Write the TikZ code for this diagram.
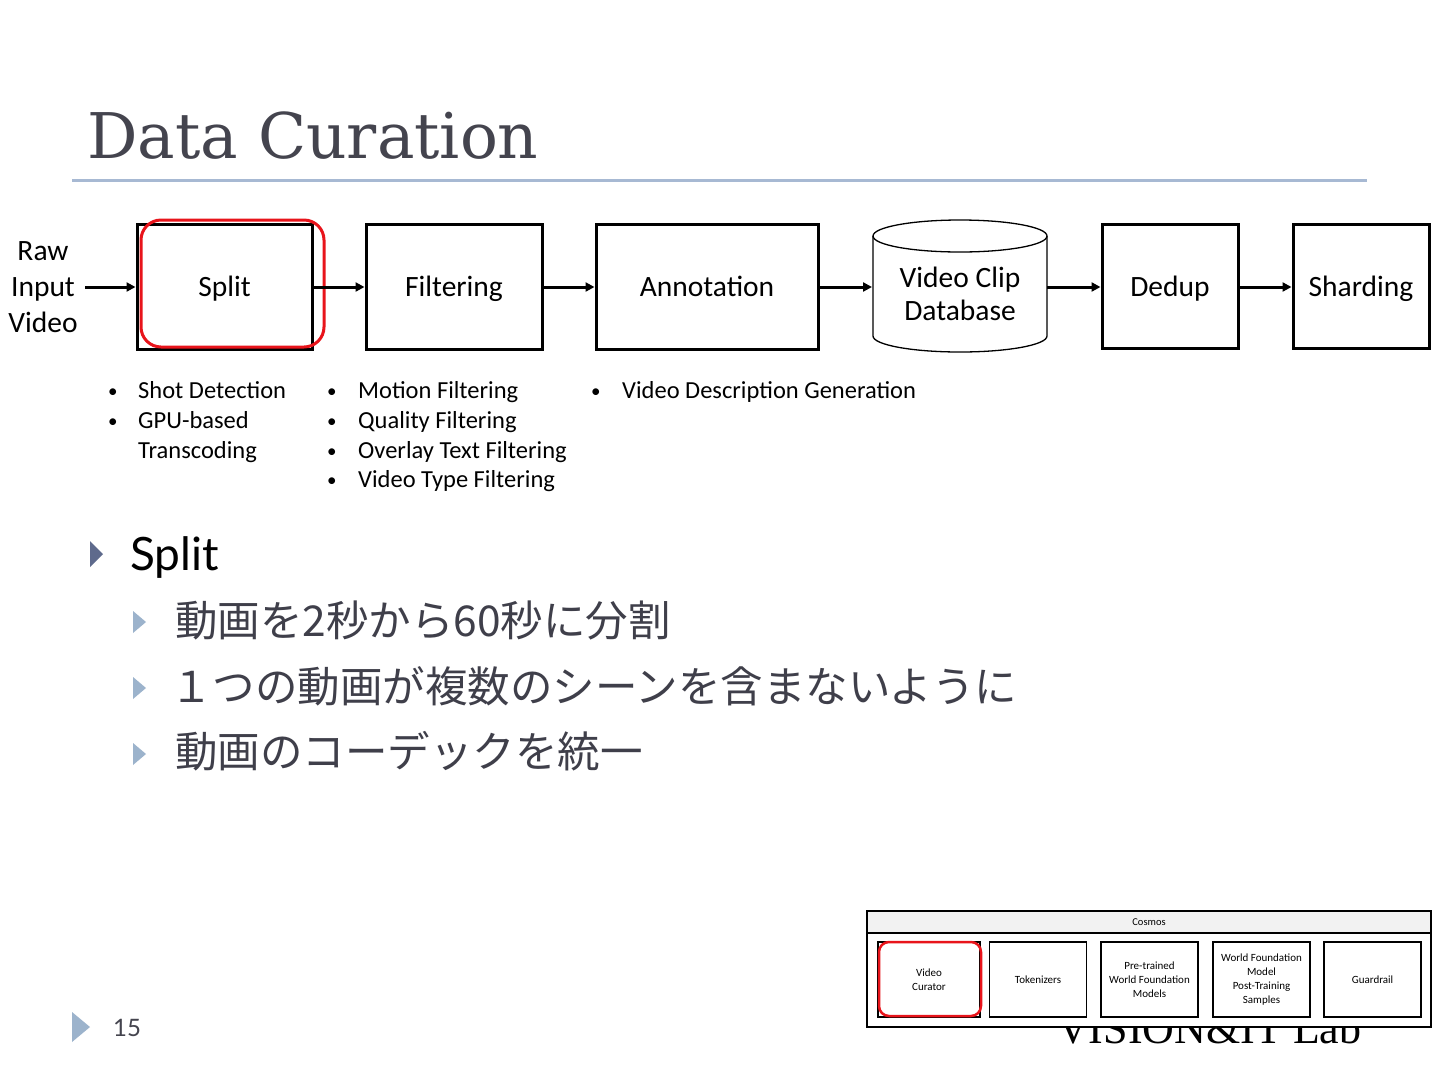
\documentclass[tikz,border=0pt]{standalone}
\usepackage{fontspec}
\setmainfont{Carlito}
\newfontfamily\cjk{Noto Sans CJK JP}
\newfontfamily\titlefont{DejaVu Serif}
\newfontfamily\gill{Lato}
\newfontfamily\tms{Liberation Serif}
\usetikzlibrary{arrows.meta}
\definecolor{titlegray}{HTML}{44444E}
\definecolor{rulblue}{HTML}{A7B9D3}
\definecolor{darktri}{HTML}{5E6A8C}
\definecolor{lighttri}{HTML}{9CB3CC}
\definecolor{jptext}{HTML}{3F3F4A}
\definecolor{hlred}{HTML}{E8141B}
\definecolor{hdrgray}{HTML}{F2F2F2}
\tikzset{
  stage/.style={draw=black, line width=3pt, fill=white, inner sep=0pt, text height=23pt, text depth=3pt, font=\fontsize{29.5}{36}\selectfont},
  flow/.style={line width=3pt, -{Triangle[length=9pt,width=9pt]}},
  hl/.style={draw=hlred, line width=3pt, rounded corners=20pt},
  bul/.style={anchor=base west, inner sep=0pt, font=\fontsize{24.5}{30}\selectfont},
  bdot/.style={anchor=base west, inner sep=0pt, font=\fontsize{19}{30}\selectfont},
  jp/.style={anchor=base west, inner sep=0pt, text=jptext, font=\cjk\fontsize{42.5}{50}\selectfont},
  cbox/.style={draw=black, line width=1.4pt, fill=white, align=center, inner sep=0pt, font=\fontsize{11}{14}\selectfont},
  hlsmall/.style={draw=hlred, line width=2.5pt, rounded corners=10pt}
}
\begin{document}
\begin{tikzpicture}[x=1pt,y=-1pt]
\useasboundingbox (0,0) rectangle (1440,1080);
\fill[white] (0,0) rectangle (1440,1080);

% title
\node[anchor=base west, inner sep=0pt, text=titlegray, font=\titlefont\fontsize{63}{70}\selectfont] (title) at (87,158) {Data Curation};
\draw[rulblue, line width=3pt] (72,180) -- (1367,180);

% pipeline
\node[align=center, inner sep=0pt, font=\fontsize{29.5}{36}\selectfont] (raw) at (43,287) {Raw\\Input\\Video};
\coordinate (rawout) at (85,287);
\node[stage, minimum width=175pt, minimum height=125pt] (split) at (224.5,286.5) {Split};
\node[stage, minimum width=176pt, minimum height=125pt] (filt) at (454,286.5) {Filtering};
\node[stage, minimum width=222pt, minimum height=125pt] (anno) at (707,286.5) {Annotation};
% cylinder
\draw[line width=1.3pt, fill=white] (873,236) -- (873,336) arc[start angle=180, end angle=0, x radius=87, y radius=16] -- (1047,236);
\draw[line width=1.3pt] (960,236) ellipse [x radius=87, y radius=16];
\node[align=center, inner sep=0pt, minimum width=174pt, minimum height=132pt, font=\fontsize{29.5}{33}\selectfont] (db) at (960,294) {Video Clip\\Database};
\coordinate (dbin) at (872,287);
\coordinate (dbout) at (1047,287);
\node[stage, minimum width=136pt, minimum height=124pt] (dedup) at (1170,286) {Dedup};
\node[stage, minimum width=136pt, minimum height=124pt] (shard) at (1361,286) {Sharding};

\draw[hl] (141,220) rectangle (324,347);

\draw[flow] (rawout) -- (split.west |- rawout);
\draw[flow] (split.east |- rawout) -- (filt.west |- rawout);
\draw[flow] (filt.east |- rawout) -- (anno.west |- rawout);
\draw[flow] (anno.east |- rawout) -- (dbin);
\draw[flow] (dbout) -- (dedup.west |- rawout);
\draw[flow] (dedup.east |- rawout) -- (shard.west |- rawout);

% bullet lists
\node[bdot] (b1d) at (108,397) {•};
\node[bul] (b1) at (138,398) {Shot Detection};
\node[bdot] (b2d) at (108,427) {•};
\node[bul] (b2) at (138,428) {GPU-based};
\node[bul] (b3) at (138,458) {Transcoding};

\node[bdot] (f1d) at (327,397) {•};
\node[bul] (f1) at (358,398) {Motion Filtering};
\node[bdot] (f2d) at (327,427) {•};
\node[bul] (f2) at (358,428) {Quality Filtering};
\node[bdot] (f3d) at (327,457) {•};
\node[bul] (f3) at (358,458) {Overlay Text Filtering};
\node[bdot] (f4d) at (327,486) {•};
\node[bul] (f4) at (358,487) {Video Type Filtering};

\node[bdot] (a1d) at (591,397) {•};
\node[bul] (a1) at (622,398) {Video Description Generation};

% text bullets
\fill[darktri] (90,541) -- (90,567) -- (103,554) -- cycle;
\node[anchor=base west, inner sep=0pt, font=\gill\fontsize{46}{52}\selectfont] (splitt) at (130,570) {Split};
\fill[lighttri] (133,611) -- (133,633) -- (146,622) -- cycle;
\node[jp] (j1) at (175,636) {動画を2秒から60秒に分割};
\fill[lighttri] (133,677) -- (133,699) -- (146,688) -- cycle;
\node[jp] (j2) at (170,702) {１つの動画が複数のシーンを含まないように};
\fill[lighttri] (133,743) -- (133,765) -- (146,754) -- cycle;
\node[jp] (j3) at (175,767) {動画のコーデックを統一};

% footer
\fill[lighttri] (72,1012) -- (72,1042) -- (90,1027) -- cycle;
\node[anchor=base west, inner sep=0pt, text=titlegray, font=\gill\fontsize{24}{28}\selectfont] (pnum) at (113,1036) {15};
\node[anchor=base west, inner sep=0pt, font=\tms\fontsize{44}{50}\selectfont] (lab) at (1057,1043) {VISION\&IT Lab};

% cosmos inset
\draw[line width=1.4pt, fill=white] (867,911) rectangle (1431,1027);
\node[draw=black, line width=1.4pt, fill=hdrgray, minimum width=564pt, minimum height=22pt, inner sep=0pt, font=\fontsize{10.5}{12}\selectfont] (cosmos) at (1149,922) {Cosmos};
\node[cbox, minimum width=102pt, minimum height=75pt] (vc) at (929,979.5) {Video\\Curator};
\node[cbox, minimum width=97pt, minimum height=75pt] (tok) at (1038,979.5) {Tokenizers};
\node[cbox, minimum width=97pt, minimum height=75pt] (ptw) at (1149.5,979.5) {Pre-trained\\World Foundation\\Models};
\node[cbox, minimum width=97pt, minimum height=75pt] (wfm) at (1261.5,979.5) {World Foundation\\Model\\Post-Training\\Samples};
\node[cbox, minimum width=97pt, minimum height=75pt] (guard) at (1372.5,979.5) {Guardrail};
\draw[hlsmall] (879,942) rectangle (981,1016);
\end{tikzpicture}
\end{document}
